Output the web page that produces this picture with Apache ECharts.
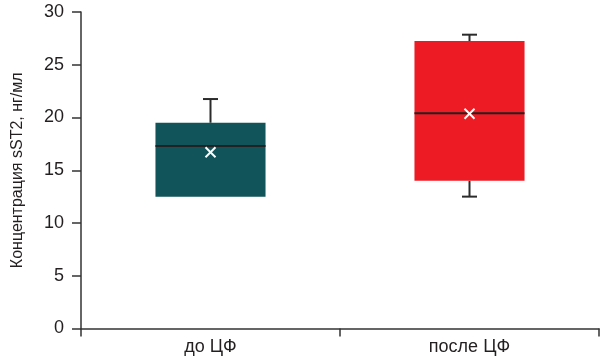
<!DOCTYPE html>
<html><head><meta charset="utf-8">
<script src="https://cdn.jsdelivr.net/npm/echarts@6/dist/echarts.min.js"></script>
<style>html,body{margin:0;padding:0;background:#fff}#c{width:608px;height:364px}</style>
</head><body><div id="c"></div>
<script>
var categories = ['до ЦФ', 'после ЦФ'];
var minVals = [12.5, 12.5];
var q1Vals = [12.5, 14.0];
var medianVals = [17.3, 20.4];
var q3Vals = [19.5, 27.25];
var maxVals = [21.75, 27.85];
var meanVals = [16.7, 20.35];
var boxColors = ['#11555a', '#ed1c24'];
var yTicks = [0, 5, 10, 15, 20, 25, 30];

var data = categories.map(function (c, i) {
  return [i, minVals[i], q1Vals[i], medianVals[i], q3Vals[i], maxVals[i], meanVals[i]];
});

function renderItem(params, api) {
  var i = api.value(0);
  var cx = api.coord([i, 0])[0];
  var bw = api.size([1, 0])[0] * 0.425;
  var yMin = api.coord([i, api.value(1)])[1];
  var yQ1 = api.coord([i, api.value(2)])[1];
  var yMed = api.coord([i, api.value(3)])[1];
  var yQ3 = api.coord([i, api.value(4)])[1];
  var yMax = api.coord([i, api.value(5)])[1];
  var yMean = api.coord([i, api.value(6)])[1];
  var capW = 7.5, m = 5;
  var lineStyle = {stroke: '#2b2b2b', lineWidth: 2};
  var children = [
    {type: 'line', shape: {x1: cx, y1: yQ3, x2: cx, y2: yMax}, style: lineStyle},
    {type: 'line', shape: {x1: cx - capW, y1: yMax, x2: cx + capW, y2: yMax}, style: lineStyle},
    {type: 'line', shape: {x1: cx, y1: yQ1, x2: cx, y2: yMin}, style: lineStyle},
    {type: 'line', shape: {x1: cx - capW, y1: yMin, x2: cx + capW, y2: yMin}, style: lineStyle, invisible: api.value(1) === api.value(2)},
    {type: 'rect', shape: {x: cx - bw / 2, y: yQ3, width: bw, height: yQ1 - yQ3}, style: {fill: boxColors[i]}},
    {type: 'line', shape: {x1: cx - bw / 2, y1: yMed, x2: cx + bw / 2, y2: yMed}, style: {stroke: '#222', lineWidth: 2}},
    {type: 'line', shape: {x1: cx - m, y1: yMean - m, x2: cx + m, y2: yMean + m}, style: {stroke: '#fff', lineWidth: 2}},
    {type: 'line', shape: {x1: cx - m, y1: yMean + m, x2: cx + m, y2: yMean - m}, style: {stroke: '#fff', lineWidth: 2}}
  ];
  return {type: 'group', children: children};
}

var chart = echarts.init(document.getElementById('c'));
chart.setOption({
  animation: false,
  grid: {left: 81, right: 9, top: 12, bottom: 35.5},
  xAxis: {
    type: 'category', data: categories, boundaryGap: true,
    axisLine: {lineStyle: {color: '#333', width: 1.5}},
    axisTick: {show: true, length: 8, lineStyle: {color: '#333', width: 1.5}},
    axisLabel: {color: '#231f20', fontSize: 18, fontFamily: 'Liberation Sans', margin: 10}
  },
  yAxis: {
    type: 'value', min: 0, max: 30, interval: 5,
    name: 'Концентрация sST2, нг/мл', nameLocation: 'middle', nameGap: 55,
    nameTextStyle: {color: '#231f20', fontSize: 16, fontFamily: 'Liberation Sans'},
    axisLine: {show: true, lineStyle: {color: '#333', width: 1.5}},
    axisTick: {show: true, length: 9, lineStyle: {color: '#333', width: 1.5}},
    splitLine: {show: false},
    axisLabel: {color: '#231f20', fontSize: 18, fontFamily: 'Liberation Sans', margin: 17,
      formatter: function (v) { return yTicks.indexOf(v) >= 0 ? String(v) : ''; }}
  },
  series: [{type: 'custom', renderItem: renderItem, data: data, encode: {x: 0, y: [1, 5]}}]
});
</script></body></html>
